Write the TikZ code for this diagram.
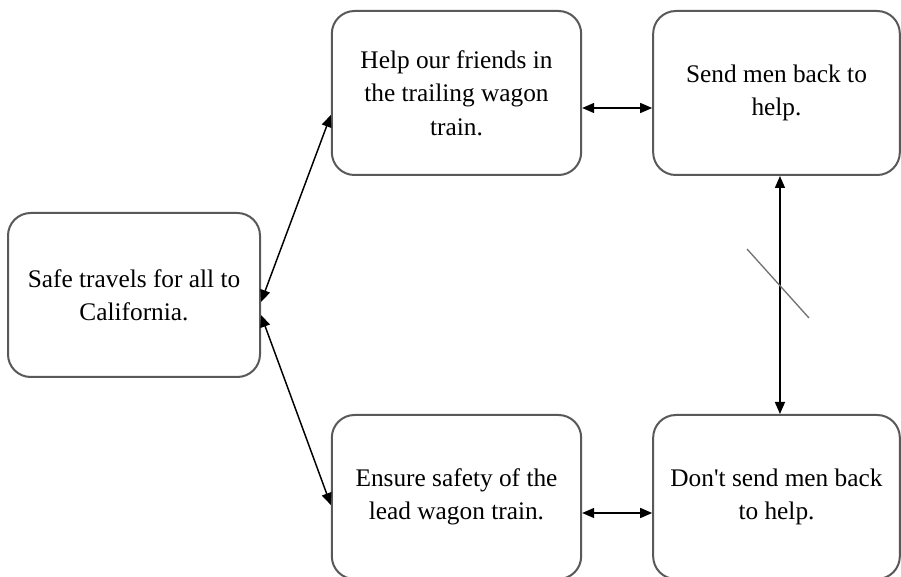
\documentclass[tikz,border=0pt]{standalone}
\usepackage{fontspec}
\setmainfont{Liberation Serif}
\usetikzlibrary{arrows.meta}
\begin{document}
\begin{tikzpicture}[x=0.75pt,y=-0.75pt,
  goalbox/.style={draw=black!65, line width=1.5pt, rounded corners=17pt,
    minimum width=#1, minimum height=123pt, align=center, inner sep=0pt,
    font=\fontsize{19}{25}\selectfont},
  goalbox/.default=187pt,
  link/.style={line width=1.1pt, {Triangle[length=9pt,width=7.5pt]}-{Triangle[length=9pt,width=7.5pt]}},
  conflict/.style={draw=black!55, line width=1pt}]
  \useasboundingbox (0,0) rectangle (901,577);
  \clip (0,0) rectangle (901,577);
  \fill[white] (0,0) rectangle (901,577);

  % goal boxes
  \node[goalbox=189pt] (L)  at (134,295)   {Safe travels for all to\\California.};
  \node[goalbox]       (TM) at (456.5,93)  {Help our friends in\\the trailing wagon\\train.};
  \node[goalbox=185pt] (TR) at (776.5,93)  {Send men back to\\help.};
  \node[goalbox]       (BM) at (456.5,497) {Ensure safety of the\\lead wagon train.};
  \node[goalbox=185pt] (BR) at (776.5,497) {Don\textquotesingle t send men back\\to help.};

  % links between goals
  \draw[link] ([yshift=-5.25pt]L.east)   -- ([yshift=-16.5pt]TM.west);
  \draw[link] ([yshift=-15pt]L.east)     -- ([yshift=-6pt]BM.west);
  \draw[link] ([yshift=-11.25pt]TM.east) -- ([yshift=-11.25pt]TR.west);
  \draw[link] ([yshift=-12pt]BM.east)    -- ([yshift=-12pt]BR.west);
  \draw[link] ([xshift=2.6pt]TR.south)   -- ([xshift=2.6pt]BR.north);

  % conflict mark across the vertical link
  \coordinate (c1) at (747,249);
  \coordinate (c2) at (809,318);
  \draw[conflict] (c1) -- (c2);
\end{tikzpicture}
\end{document}
